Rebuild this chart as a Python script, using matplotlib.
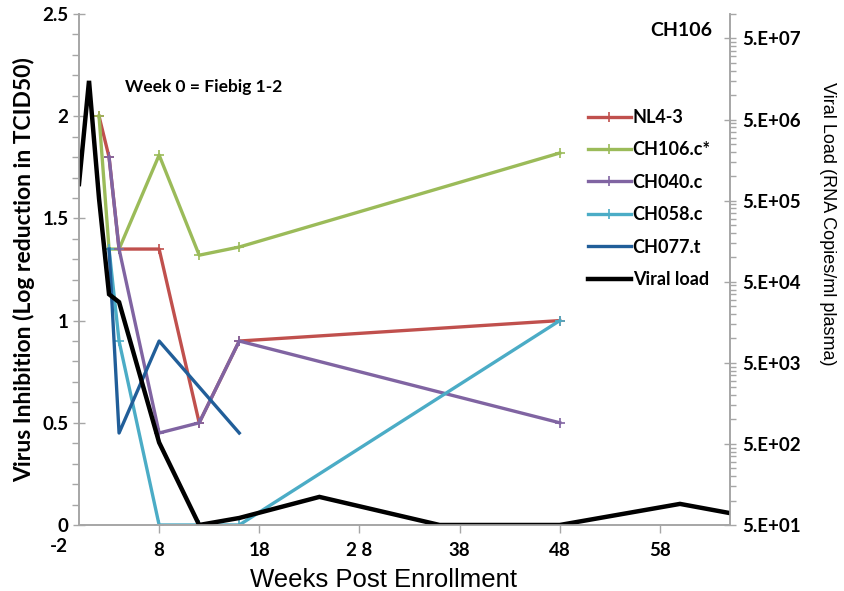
import numpy as np
import matplotlib
matplotlib.use("Agg")
import matplotlib.pyplot as plt
from matplotlib.ticker import FixedLocator, NullFormatter

# Weeks post enrollment and virus inhibition (log reduction in TCID50)
nl43_weeks = [2, 3, 4, 8, 12, 16, 48]
nl43_vals  = [2.0, 1.8, 1.35, 1.35, 0.5, 0.9, 1.0]

ch106_weeks = [2, 3, 4, 8, 12, 16, 48]
ch106_vals  = [2.0, 1.35, 1.35, 1.81, 1.32, 1.36, 1.82]

ch040_weeks = [3, 4, 8, 12, 16, 48]
ch040_vals  = [1.8, 1.35, 0.45, 0.5, 0.9, 0.5]

ch058_weeks = [3, 4, 8, 12, 16, 48]
ch058_vals  = [1.35, 0.9, 0.0, 0.0, 0.0, 1.0]

ch077_weeks = [3, 4, 8, 16]
ch077_vals  = [1.35, 0.45, 0.9, 0.45]

# Viral load (RNA copies/ml plasma)
vl_weeks = [0, 1, 2, 3, 4, 8, 12, 16, 24, 36, 48, 60, 65]
vl_vals  = [8.0e5, 1.5e7, 5.3e5, 3.5e4, 2.8e4, 5.2e2, 50, 61, 111, 50, 50, 91, 70]

x_ticks = [8, 18, 28, 38, 48, 58]
x_labels = ["8", "18", "2 8", "38", "48", "58"]
vl_ticks = [5e1, 5e2, 5e3, 5e4, 5e5, 5e6, 5e7]
vl_labels = ["5.E+01", "5.E+02", "5.E+03", "5.E+04", "5.E+05", "5.E+06", "5.E+07"]

GRAY = "#A6A6A6"
BOLD = dict(family="Lato", weight="bold")
NARROW = ["Liberation Sans Narrow", "Liberation Sans"]

fig = plt.figure(figsize=(8.44, 5.91), dpi=100)
ax = fig.add_axes([0.0936, 0.1117, 0.7714, 0.8646])
ax2 = ax.twinx()

series = [
    (nl43_weeks, nl43_vals, "#C0504D", "NL4-3", "+"),
    (ch106_weeks, ch106_vals, "#9BBB59", "CH106.c*", "+"),
    (ch040_weeks, ch040_vals, "#8064A2", "CH040.c", "+"),
    (ch058_weeks, ch058_vals, "#4BACC6", "CH058.c", "+"),
    (ch077_weeks, ch077_vals, "#215E99", "CH077.t", None),
]
handles = []
for w, v, c, lab, m in series:
    h, = ax.plot(w, v, color=c, lw=2.4, marker=m, ms=7, mew=1.2, label=lab)
    handles.append(h)

hv, = ax2.plot(vl_weeks, vl_vals, color="black", lw=3.2, label="Viral load",
               solid_joinstyle="miter")
handles.append(hv)

# left axis
ax.set_xlim(0, 65)
ax.set_ylim(0, 2.5)
ax.set_yticks([0, 0.5, 1, 1.5, 2, 2.5])
ax.set_yticklabels(["0", "0.5", "1", "1.5", "2", "2.5"], **BOLD, fontsize=13.5)
ax.yaxis.set_minor_locator(FixedLocator(np.arange(0, 2.51, 0.1)))
ax.tick_params(axis="y", which="major", direction="inout", length=9, color=GRAY, width=1, pad=3)
ax.tick_params(axis="y", which="minor", direction="out", length=5, color=GRAY, width=1)
ax.set_xticks(x_ticks)
ax.set_xticklabels(x_labels, **BOLD, fontsize=13.5)
ax.tick_params(axis="x", direction="out", length=6, color=GRAY, width=1, pad=6)
ax.text(-2, -0.026, "-2", transform=ax.get_xaxis_transform(), ha="center", va="top",
        fontsize=13.5, clip_on=False, **BOLD)

# right axis
ax2.set_yscale("log")
ax2.set_ylim(50, 1e8)
ax2.yaxis.set_major_locator(FixedLocator(vl_ticks))
ax2.set_yticklabels(vl_labels, **BOLD, fontsize=13.5)
minors = [t * k for t in vl_ticks[:-1] for k in range(2, 10)] + [1e8]
ax2.yaxis.set_minor_locator(FixedLocator(minors))
ax2.yaxis.set_minor_formatter(NullFormatter())
ax2.tick_params(axis="y", which="major", direction="inout", length=9, color=GRAY, width=1, pad=4)
ax2.tick_params(axis="y", which="minor", direction="out", length=4, color=GRAY, width=1)

for a in (ax, ax2):
    a.spines["top"].set_visible(False)
    for s in ("left", "right", "bottom"):
        a.spines[s].set_color(GRAY)
        a.spines[s].set_linewidth(1.2)

ax.set_ylabel("Virus Inhibition (Log reduction in TCID50)", fontsize=16.5, **BOLD)
ax.yaxis.set_label_coords(-0.067, 0.5)
ax2.set_ylabel("Viral Load (RNA Copies/ml plasma)", rotation=-90, va="center",
               fontsize=13, family=NARROW)
ax2.yaxis.set_label_coords(1.15, 0.59)
ax.set_xlabel("Weeks Post Enrollment", fontsize=18.5, labelpad=4, family=NARROW)
ax.xaxis.set_label_coords(0.468, -0.085)

ax2.text(0.925, 0.985, "CH106", transform=ax.transAxes, ha="center", va="top",
         fontsize=14, **BOLD)
ax2.text(0.071, 0.857, "Week 0 = Fiebig 1-2", transform=ax.transAxes, ha="left", va="center",
         fontsize=12.5, **BOLD)

leg = ax2.legend(handles=handles, loc="upper left", bbox_to_anchor=(0.77, 0.828),
                 frameon=False, handlelength=2.4, handletextpad=0.1, labelspacing=0.85,
                 prop=dict(family="Lato", weight="bold", size=13), borderaxespad=0)

fig.savefig("out.png", dpi=100)
